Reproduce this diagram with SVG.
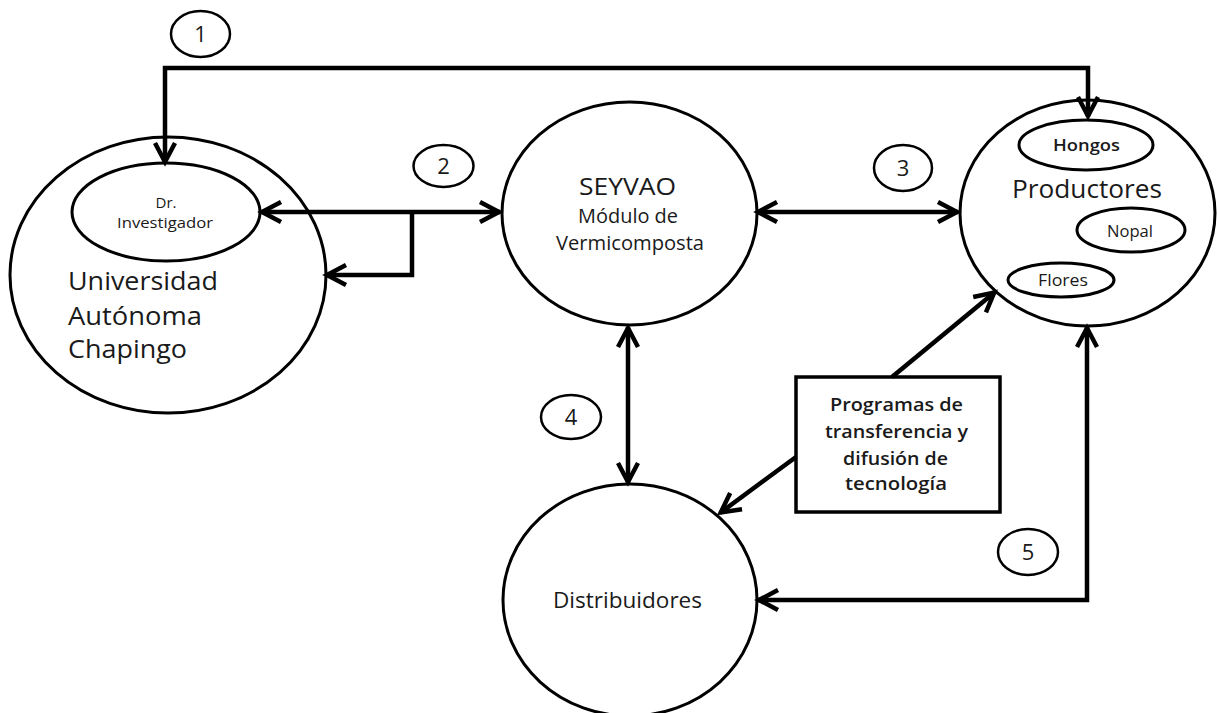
<svg xmlns="http://www.w3.org/2000/svg" width="1217" height="713" viewBox="0 0 1217 713">
<style>
  .node { fill: #ffffff; stroke: #000000; stroke-width: 3; }
  .sub { fill: #ffffff; stroke: #000000; stroke-width: 3; }
  .num { fill: #ffffff; stroke: #000000; stroke-width: 2.5; }
  .conn { fill: none; stroke: #000000; stroke-width: 4.5; }
  text { font-family: "Open Sans", "Liberation Sans", sans-serif; fill: #1a1a1a; }
  .big { font-size: 26px; }
  .mid { font-size: 20px; }
  .semi { font-size: 18.5px; font-weight: 600; }
  .small { font-size: 15px; }
  .numt { font-size: 22px; text-anchor: middle; }
  .c { text-anchor: middle; }
</style>
<defs>
  <marker id="arr" markerUnits="userSpaceOnUse" viewBox="-24 -14 28 28" refX="0" refY="0" markerWidth="28" markerHeight="28" orient="auto-start-reverse">
    <path d="M -20 -10 L -1 0 L -20 10" fill="none" stroke="#000" stroke-width="4.5" stroke-linejoin="miter"/>
  </marker>
</defs>
<rect width="1217" height="713" fill="#ffffff"/>

<g id="universidad">
  <ellipse class="node" cx="168" cy="275" rx="158" ry="138"/>
  <text class="big" x="68" y="290" textLength="150" lengthAdjust="spacingAndGlyphs">Universidad</text>
  <text class="big" x="68" y="325" textLength="134" lengthAdjust="spacingAndGlyphs">Autónoma</text>
  <text class="big" x="68" y="358" textLength="119" lengthAdjust="spacingAndGlyphs">Chapingo</text>
</g>
<g id="investigador">
  <ellipse class="sub" cx="166" cy="212" rx="94" ry="49"/>
  <text class="small c" x="166" y="208">Dr.</text>
  <text class="small" x="117" y="228" textLength="96" lengthAdjust="spacingAndGlyphs">Investigador</text>
</g>
<g id="seyvao">
  <ellipse class="node" cx="629.5" cy="213.5" rx="127.5" ry="111.5"/>
  <text class="big" x="579" y="195" textLength="97" lengthAdjust="spacingAndGlyphs" style="font-size:24px">SEYVAO</text>
  <text class="mid" x="578" y="223" textLength="100" lengthAdjust="spacingAndGlyphs">Módulo de</text>
  <text class="mid" x="556" y="250" textLength="148" lengthAdjust="spacingAndGlyphs">Vermicomposta</text>
</g>
<g id="productores">
  <ellipse class="node" cx="1087.5" cy="213" rx="127.5" ry="113"/>
  <text class="big" x="1012" y="198" textLength="150" lengthAdjust="spacingAndGlyphs">Productores</text>
</g>
<g id="hongos">
  <ellipse class="sub" cx="1086" cy="145" rx="67" ry="25"/>
  <text class="semi" x="1053" y="151" textLength="67" lengthAdjust="spacingAndGlyphs" style="font-size:16px">Hongos</text>
</g>
<g id="nopal">
  <ellipse class="sub" cx="1131" cy="230" rx="54" ry="22"/>
  <text class="small" x="1107" y="237" textLength="46" lengthAdjust="spacingAndGlyphs" style="font-size:16px">Nopal</text>
</g>
<g id="flores">
  <ellipse class="sub" cx="1061" cy="280" rx="53" ry="17"/>
  <text class="small" x="1038" y="286" textLength="50" lengthAdjust="spacingAndGlyphs" style="font-size:16px">Flores</text>
</g>
<g id="distribuidores">
  <ellipse class="node" cx="630" cy="600" rx="127" ry="116"/>
  <text class="mid" x="553" y="608" textLength="149" lengthAdjust="spacingAndGlyphs" style="font-size:21px">Distribuidores</text>
</g>
<g id="programas">
  <rect x="796" y="377" width="204" height="135" fill="#ffffff" stroke="#000" stroke-width="3.5"/>
  <text class="semi" x="830" y="411" textLength="133" lengthAdjust="spacingAndGlyphs">Programas de</text>
  <text class="semi" x="825" y="438" textLength="143" lengthAdjust="spacingAndGlyphs">transferencia y</text>
  <text class="semi" x="843" y="465" textLength="105" lengthAdjust="spacingAndGlyphs">difusión de</text>
  <text class="semi" x="845" y="490" textLength="102" lengthAdjust="spacingAndGlyphs">tecnología</text>
</g>

<g id="connectors">
  <path class="conn" d="M165,163 L165,68 L1088,68 L1088,117" marker-start="url(#arr)" marker-end="url(#arr)"/>
  <path class="conn" d="M261,212 L500,212" marker-start="url(#arr)" marker-end="url(#arr)"/>
  <path class="conn" d="M412,212 L412,275 L326,275" marker-end="url(#arr)"/>
  <path class="conn" d="M757,212 L958,212" marker-start="url(#arr)" marker-end="url(#arr)"/>
  <path class="conn" d="M628,327 L628,483" marker-start="url(#arr)" marker-end="url(#arr)"/>
  <path class="conn" d="M892,377 L995,292" marker-end="url(#arr)"/>
  <path class="conn" d="M796,457 L720,513" marker-end="url(#arr)"/>
  <path class="conn" d="M1087,327 L1087,600 L758,600" marker-start="url(#arr)" marker-end="url(#arr)"/>
</g>

<g id="label1">
  <ellipse class="num" cx="200.5" cy="34" rx="29.5" ry="23"/>
  <text class="numt" x="200.5" y="42">1</text>
</g>
<g id="label2">
  <ellipse class="num" cx="443.5" cy="166" rx="30" ry="21"/>
  <text class="numt" x="443.5" y="174">2</text>
</g>
<g id="label3">
  <ellipse class="num" cx="903" cy="168" rx="29" ry="23"/>
  <text class="numt" x="903" y="176">3</text>
</g>
<g id="label4">
  <ellipse class="num" cx="571" cy="417" rx="30" ry="22"/>
  <text class="numt" x="571" y="425">4</text>
</g>
<g id="label5">
  <ellipse class="num" cx="1028" cy="552" rx="30" ry="23"/>
  <text class="numt" x="1028" y="560">5</text>
</g>
</svg>
